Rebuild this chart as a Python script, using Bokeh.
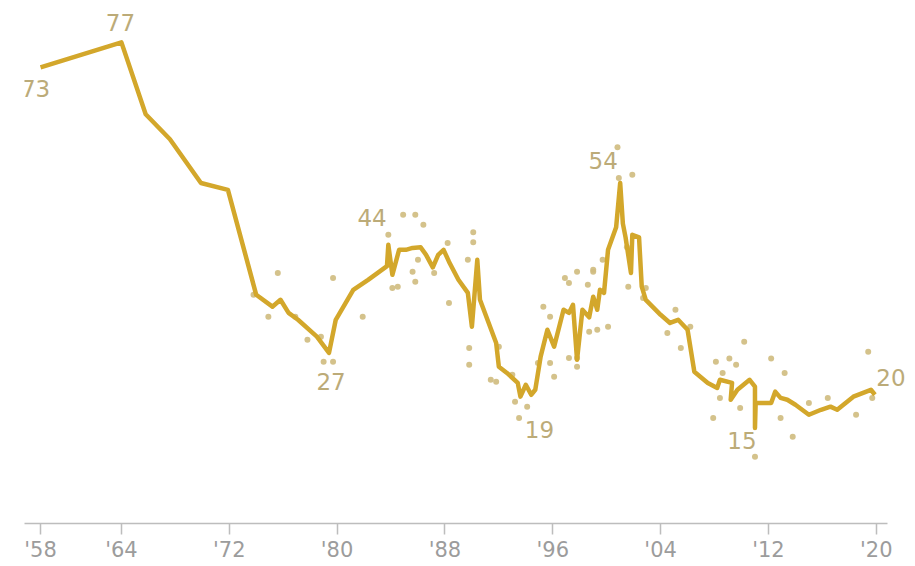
from bokeh.plotting import figure
from bokeh.models import Range1d, FixedTicker, ColumnDataSource, LabelSet
from bokeh.core.properties import value
from bokeh.embed import file_html
from bokeh.resources import INLINE

# Moving-average trend line (year, % who trust government)
line_year = [1958, 1964, 1965.8, 1967.6, 1969.9, 1971.9, 1974.0, 1975.2, 1975.8, 1976.4,
             1977.1, 1978.5, 1979.4, 1979.9, 1981.2, 1982.3, 1983.7, 1983.8, 1984.1, 1984.6,
             1985.1, 1985.6, 1986.2, 1986.6, 1987.1, 1987.5, 1987.9, 1988.3, 1989.0, 1989.7,
             1990.0, 1990.4, 1990.6, 1991.8, 1992.0, 1992.6, 1993.4, 1993.6, 1994.0, 1994.4,
             1994.7, 1995.1, 1995.6, 1996.1, 1996.8, 1997.2, 1997.5, 1997.8, 1998.2, 1998.7,
             1999.0, 1999.3, 1999.5, 1999.8, 2000.1, 2000.7, 2001.0, 2001.2, 2001.4, 2001.8,
             2001.9, 2002.4, 2002.6, 2002.9, 2004.0, 2004.7, 2005.3, 2006.0, 2006.5, 2007.5,
             2008.2, 2008.4, 2009.3, 2009.2, 2009.7, 2010.6, 2011.0, 2011.0, 2011.05, 2012.2,
             2012.5, 2012.9, 2013.4, 2014.0, 2015.0, 2015.9, 2016.6, 2017.1, 2018.3, 2019.6,
             2019.9]
line_value = [73, 77, 65.5, 61.5, 54.5, 53.4, 36.6, 34.7, 35.8, 33.7,
              32.6, 29.9, 27.3, 32.6, 37.4, 39.0, 41.2, 44.6, 39.8, 43.8,
              43.8, 44.1, 44.2, 43.0, 41.0, 43.0, 43.8, 41.9, 39.0, 36.9,
              31.5, 42.2, 35.8, 28.9, 25.1, 24.1, 22.5, 20.3, 22.2, 20.6,
              21.4, 26.7, 31.0, 28.3, 34.2, 33.7, 35.0, 26.2, 34.2, 33.0,
              36.3, 34.2, 37.4, 36.9, 43.8, 47.4, 54.5, 48.0, 45.8, 40.1,
              46.2, 45.8, 37.9, 35.8, 33.4, 32.1, 32.6, 31.0, 24.3, 22.5,
              21.7, 23.0, 22.5, 19.8, 21.4, 23.0, 21.9, 15.3, 19.3, 19.3,
              21.1, 20.1, 19.8, 19.0, 17.4, 18.2, 18.7, 18.2, 20.3, 21.4,
              20.6]

# Individual polls
poll_year = [1975.6, 1979.7, 1973.8, 1974.9, 1976.9, 1977.8, 1978.8, 1979.0, 1979.7, 1981.9,
             1983.8, 1984.1, 1984.9, 1985.8, 1986.4, 1984.5, 1985.6, 1985.8, 1986.0, 1987.2,
             1988.2, 1988.3, 1990.1, 1990.1, 1989.7, 1989.8, 1989.8, 1991.4, 1991.8, 1992.0,
             1993.0, 1993.2, 1993.5, 1994.1, 1995.3, 1995.8, 1994.9, 1996.1, 1995.8, 1996.9,
             1997.8, 1997.2, 1999.0, 1998.6, 1999.7, 1997.2, 1997.8, 1997.8, 1998.7, 2000.1,
             1999.3, 2000.9, 2001.9, 2000.8, 2001.5, 2001.6, 1999.0, 2002.9, 2002.7, 2005.1,
             2004.5, 2005.5, 2006.2, 2010.2, 2008.1, 2009.1, 2009.6, 2012.2, 2008.6, 2013.2,
             2008.4, 2009.9, 2007.9, 2012.9, 2013.8, 2011.0, 2015.0, 2016.4, 2018.5, 2019.4,
             2019.7]
poll_value = [40.1, 39.3, 36.6, 33.1, 33.1, 29.4, 29.9, 25.9, 25.9, 33.1,
              46.2, 37.7, 49.4, 49.4, 47.8, 37.9, 40.3, 38.7, 42.2, 40.1,
              44.9, 35.3, 46.6, 45.0, 42.2, 28.1, 25.4, 23.0, 22.7, 28.3,
              23.8, 19.5, 16.9, 18.7, 34.7, 33.1, 25.7, 23.5, 25.7, 39.3,
              40.3, 38.5, 40.3, 38.2, 42.2, 26.5, 26.5, 25.1, 30.7, 31.5,
              31.0, 55.3, 55.8, 60.2, 44.2, 37.9, 40.6, 37.7, 36.1, 34.2,
              30.5, 28.1, 31.5, 29.1, 25.9, 26.4, 25.4, 26.4, 24.1, 24.1,
              20.1, 18.5, 16.9, 16.9, 13.9, 10.7, 19.3, 20.1, 17.4, 27.5,
              20.1]

# Annotated values
label_text = ["73", "77", "44", "27", "19", "54", "15", "20"]
label_year = [1958, 1964, 1984.6, 1979.4, 1993.6, 2001.0, 2011.0, 2019.9]
label_value = [73, 77, 44, 27, 19, 54, 15, 20]

tick_years = [1958, 1964, 1972, 1980, 1988, 1996, 2004, 2012, 2020]
tick_labels = ["'58", "'64", "'72", "'80", "'88", "'96", "'04", "'12", "'20"]

# screen offsets of annotation texts (layout only)
label_dx = [-5, -1, -27, 2, 19, -17, -13, 16]
label_dy = [-21, 20, 31, -27, -25, 26, -11, 21]

LINE_COLOR = "#d3a72b"
DOT_COLOR = "#cfbb7e"
LABEL_COLOR = "#bcab78"
FONT = "DejaVu Sans"

X0, X1 = 1956.81, 2020.83

p = figure(width=913, height=564, output_backend="svg", toolbar_location=None,
           x_range=Range1d(X0, 2022.76), y_range=Range1d(0, 83.7),
           y_axis_location=None, min_border_left=24, min_border_right=0,
           min_border_top=0, background_fill_color="white", border_fill_color="white")
p.outline_line_color = None
p.xgrid.visible = False
p.ygrid.visible = False

p.scatter(poll_year, poll_value, size=6, color=DOT_COLOR, alpha=0.9, line_color=None)
p.line(line_year, line_value, line_width=4.5, color=LINE_COLOR, line_join="round")

src = ColumnDataSource(dict(x=label_year, y=label_value, t=label_text, dx=label_dx, dy=label_dy))
labels = LabelSet(x="x", y="y", text="t", source=src, x_offset="dx", y_offset="dy",
                  text_align="center", text_baseline="middle", text_font=value(FONT),
                  text_font_size="23px", text_color=LABEL_COLOR)
p.add_layout(labels)

ax = p.xaxis[0]
ax.bounds = (X0, X1)
ax.ticker = FixedTicker(ticks=tick_years)
ax.major_label_overrides = {y: l for y, l in zip(tick_years, tick_labels)}
ax.axis_line_color = "#bdbdbd"
ax.axis_line_width = 1.5
ax.major_tick_line_color = "#bdbdbd"
ax.major_tick_line_width = 1.5
ax.major_tick_in = 0
ax.major_tick_out = 11
ax.minor_tick_line_color = None
ax.major_label_standoff = 3
ax.major_label_text_font = FONT
ax.major_label_text_font_size = "21px"
ax.major_label_text_color = "#9c9c9c"

open("out.html", "w").write(file_html(p, INLINE))
